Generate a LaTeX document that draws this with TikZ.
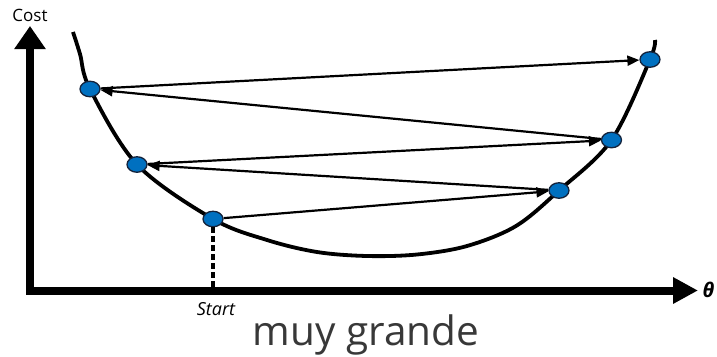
\documentclass[tikz,border=0pt]{standalone}
\usepackage{fontspec}
\setmainfont{Open Sans}
\usetikzlibrary{arrows.meta,shapes.geometric}
\definecolor{ptblue}{HTML}{0070C0}
\definecolor{ptedge}{RGB}{20,35,60}
\definecolor{capgray}{HTML}{383838}
\begin{document}
\begin{tikzpicture}[x=1pt,y=-1pt,
  pt/.style={ellipse, draw=ptedge, fill=ptblue, line width=1.3pt,
             minimum width=20pt, minimum height=15.5pt, inner sep=0pt},
  jump/.style={draw, line width=2.2pt, -{Triangle[length=12pt,width=10pt]}},
  axisline/.style={line width=8pt, line join=miter,
             {Triangle[length=23pt,width=30pt]}-{Triangle[length=25pt,width=25pt]}},
  curve/.style={line width=3.8pt},
  lbl/.style={inner sep=0pt}]
\useasboundingbox (0,0) rectangle (717,356);
% axes
\coordinate (ytip) at (30,26);
\coordinate (origin) at (30,290.5);
\coordinate (xtip) at (698,290.5);
\draw[axisline] (ytip) -- (origin) -- (xtip);
% cost curve
\draw[curve] plot[smooth, tension=0.55] coordinates
  {(73,32) (80,54) (90,89) (137,164.5) (213,219) (267,240) (317,252)
   (367,256) (417,254.5) (467,246) (516,226) (559,190.5) (611.5,140)
   (650,59.5) (655,40)};
% points
\node[pt] (p1) at (213,219) {};
\node[pt] (p2) at (559,190.5) {};
\node[pt] (p3) at (137,164.5) {};
\node[pt] (p4) at (611.5,140) {};
\node[pt] (p5) at (90,89) {};
\node[pt] (p6) at (650,59.5) {};
% jumps
\draw[jump] (p1) -- (p2);
\draw[jump] (p2) -- (p3);
\draw[jump] (p3) -- (p4);
\draw[jump] (p4) -- (p5);
\draw[jump] (p5) -- (p6);
% dashed drop
\draw[line width=3.5pt, dash pattern=on 6pt off 3pt] (p1.south) -- (p1.south |- origin);
% labels
\node[lbl, anchor=base, font=\fontsize{17}{17}\selectfont] (cost) at (30,21) {Cost};
\node[lbl, anchor=base, font=\fontsize{18}{18}\selectfont\itshape] (start) at (216,315) {Start};
\node[lbl, font=\fontsize{20}{20}\selectfont\bfseries\itshape] (theta) at (708.5,289.5) {θ};
\node[lbl, anchor=base, text=capgray, font=\fontsize{40.5}{40.5}\selectfont] (cap) at (366,345) {muy grande};
\end{tikzpicture}
\end{document}
